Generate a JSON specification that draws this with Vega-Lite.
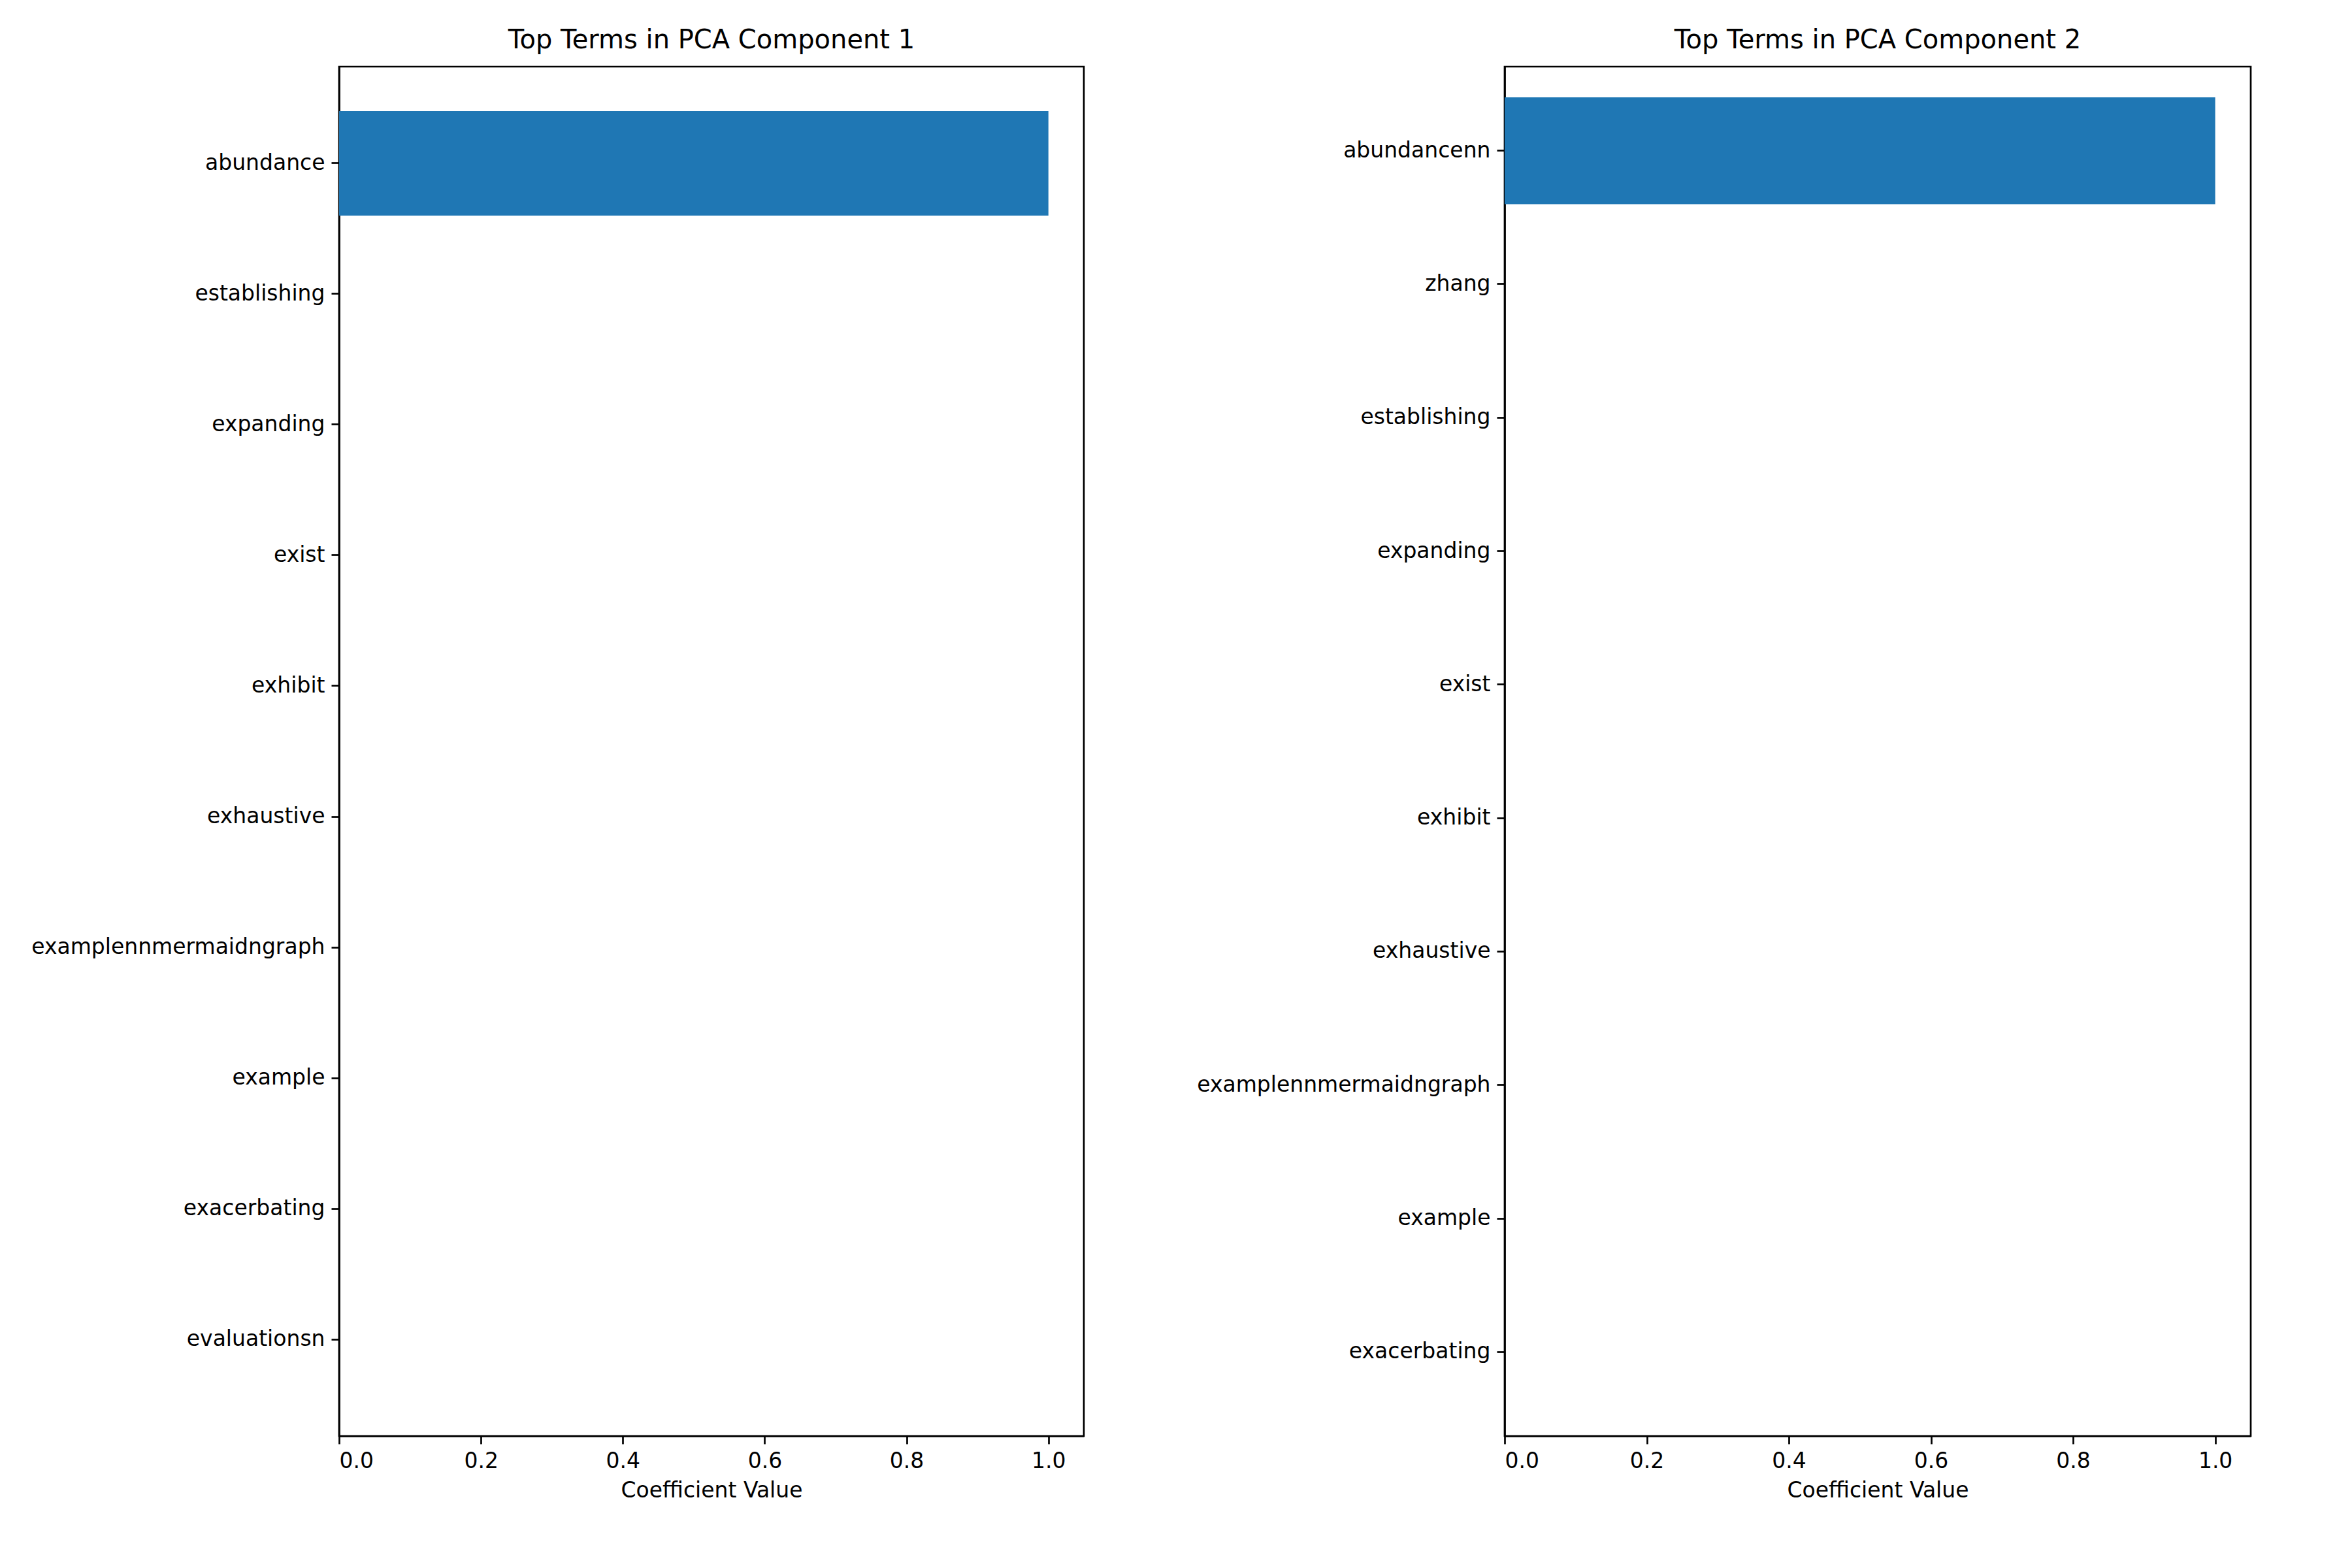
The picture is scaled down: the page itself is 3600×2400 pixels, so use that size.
{
  "$schema": "https://vega.github.io/schema/vega-lite/v6.json",
  "autosize": {"type": "pad"},
  "padding": {"left": 46, "top": 40, "right": 20, "bottom": 20},
  "background": "white",
  "datasets": {
    "pc1": [
      {"term": "abundance", "value": 1.0},
      {"term": "establishing", "value": 0},
      {"term": "expanding", "value": 0},
      {"term": "exist", "value": 0},
      {"term": "exhibit", "value": 0},
      {"term": "exhaustive", "value": 0},
      {"term": "examplennmermaidngraph", "value": 0},
      {"term": "example", "value": 0},
      {"term": "exacerbating", "value": 0},
      {"term": "evaluationsn", "value": 0}
    ],
    "pc2": [
      {"term": "abundancenn", "value": 1.0},
      {"term": "zhang", "value": 0},
      {"term": "establishing", "value": 0},
      {"term": "expanding", "value": 0},
      {"term": "exist", "value": 0},
      {"term": "exhibit", "value": 0},
      {"term": "exhaustive", "value": 0},
      {"term": "examplennmermaidngraph", "value": 0},
      {"term": "example", "value": 0},
      {"term": "exacerbating", "value": 0}
    ]
  },
  "spacing": 644,
  "bounds": "flush",
  "hconcat": [
    {
      "data": {"name": "pc1"},
      "width": 1140,
      "height": 2096,
      "title": "Top Terms in PCA Component 1",
      "mark": {"type": "bar", "color": "#1f77b4"},
      "encoding": {
        "y": {"field": "term", "type": "nominal", "sort": null, "title": null,
              "scale": {"paddingInner": 0.2, "paddingOuter": 0.34}},
        "x": {"field": "value", "type": "quantitative", "title": "Coefficient Value",
              "scale": {"domain": [0, 1.05], "nice": false},
              "axis": {"values": [0, 0.2, 0.4, 0.6, 0.8, 1.0], "format": ".1f"}}
      }
    },
    {
      "data": {"name": "pc2"},
      "width": 1142,
      "height": 2096,
      "title": "Top Terms in PCA Component 2",
      "mark": {"type": "bar", "color": "#1f77b4"},
      "encoding": {
        "y": {"field": "term", "type": "nominal", "sort": null, "title": null,
              "scale": {"paddingInner": 0.2, "paddingOuter": 0.23}},
        "x": {"field": "value", "type": "quantitative", "title": "Coefficient Value",
              "scale": {"domain": [0, 1.05], "nice": false},
              "axis": {"values": [0, 0.2, 0.4, 0.6, 0.8, 1.0], "format": ".1f"}}
      }
    }
  ],
  "config": {
    "font": "DejaVu Sans",
    "view": {"stroke": "black", "strokeWidth": 2.7},
    "title": {"fontSize": 40, "fontWeight": "normal", "font": "DejaVu Sans", "offset": 20, "color": "black"},
    "axis": {
      "grid": false,
      "domainColor": "black",
      "domainWidth": 2.7,
      "tickColor": "black",
      "tickWidth": 2.7,
      "tickSize": 12,
      "labelFontSize": 33,
      "labelColor": "black",
      "labelPadding": 10,
      "titleFontSize": 33,
      "titleFontWeight": "normal",
      "titleColor": "black",
      "titlePadding": 12,
      "labelFont": "DejaVu Sans",
      "titleFont": "DejaVu Sans"
    },
    "axisY": {"labelLimit": 1000}
  }
}
